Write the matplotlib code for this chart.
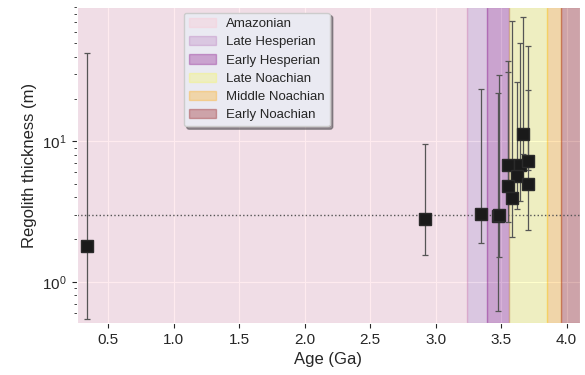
import matplotlib
matplotlib.use("Agg")
import matplotlib.pyplot as plt
import seaborn as sns
import numpy as np

sns.set_style("darkgrid", {"xtick.bottom": True, "ytick.left": True})
plt.rcParams['font.family'] = ['Liberation Sans', 'DejaVu Sans']
plt.rcParams['mathtext.fontset'] = 'custom'
plt.rcParams['mathtext.rm'] = 'Liberation Sans'
plt.rcParams['mathtext.it'] = 'Liberation Sans:italic'
plt.rcParams['mathtext.bf'] = 'Liberation Sans:bold'

# Data
age = [0.34, 2.92, 3.344, 3.474, 3.484, 3.665, 3.555, 3.646, 3.703, 3.623, 3.554, 3.705, 3.585]
thick = [1.79, 2.79, 3.06, 2.94, 3.01, 11.3, 6.79, 6.79, 7.24, 5.67, 4.81, 4.95, 3.95]
upper = [42.2, 9.57, 23.4, 22.0, 29.7, 76.1, 37.2, 50.0, 47.8, 26.3, 31.1, 23.2, 71.6]
lower = [0.543, 1.56, 1.89, 0.615, 1.49, 8.09, 4.89, 3.78, 6.22, 3.32, 2.68, 2.35, 2.08]

periods = ["Amazonian", "Late Hesperian", "Early Hesperian", "Late Noachian", "Middle Noachian", "Early Noachian"]
period_start = [0.0, 3.24, 3.39, 3.56, 3.85, 3.96]
period_end = [3.24, 3.39, 3.56, 3.85, 3.96, 4.2]
period_colors = ["pink", "purple", "purple", "yellow", "orange", "darkred"]
period_alpha = [0.3, 0.15, 0.3, 0.2, 0.3, 0.3]

threshold = 3.0

fig = plt.figure(figsize=(5.85, 3.75), dpi=100)
ax = fig.add_axes([0.131, 0.139, 0.86, 0.842])

for name, s, e, c, a in zip(periods, period_start, period_end, period_colors, period_alpha):
    ax.axvspan(s, e, color=c, alpha=a, label=name)

t = np.array(thick)
yerr = np.vstack([t - np.array(lower), np.array(upper) - t])
ax.errorbar(age, thick, yerr=yerr, fmt='s', color='#1a1a1a', ecolor='#555555',
            elinewidth=0.9, capsize=2.5, capthick=0.9, markersize=8, mec='#2a2a2a')
ax.axhline(threshold, color='#555555', ls=':', lw=1)

ax.set_yscale('log')
ax.set_xlim(0.26, 4.1)
ax.set_ylim(0.51, 90)
ax.set_xticks([0.5, 1.0, 1.5, 2.0, 2.5, 3.0, 3.5, 4.0])
ax.set_xlabel("Age (Ga)", fontsize=12)
ax.set_ylabel("Regolith thickness (m)", fontsize=12)
ax.tick_params(labelsize=11)

ax.legend(loc='upper left', bbox_to_anchor=(0.2, 1.003), shadow=True, fancybox=True,
          frameon=True, fontsize=9.5, facecolor='#EAEAF2', edgecolor='#cccccc', framealpha=1,
          labelspacing=0.45)

fig.savefig("out.png", dpi=100)
